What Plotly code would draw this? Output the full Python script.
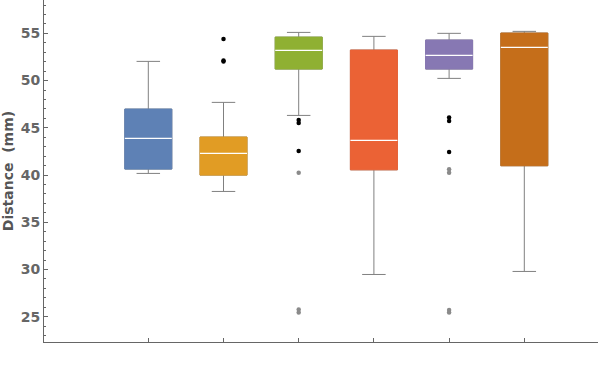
import plotly.graph_objects as go

# Data
positions = [1, 2, 3, 4, 5, 6]
colors = ["#5e81b5", "#e19c24", "#8fb032", "#eb6235", "#8778b3", "#c56e1a"]
upper = [52.03, 47.69, 55.10, 54.68, 55.00, 55.21]
q3 = [46.98, 44.02, 54.60, 53.23, 54.29, 55.03]
median = [43.88, 42.29, 53.20, 43.66, 52.67, 53.52]
q1 = [40.63, 39.99, 51.22, 40.55, 51.22, 40.98]
lower = [40.17, 38.26, 46.31, 29.47, 50.23, 29.79]

# outliers (near: black, far: gray)
near_x = [2, 2, 2, 3, 3, 3, 5, 5, 5]
near_y = [54.40, 52.12, 52.02, 45.82, 45.50, 42.54, 46.09, 45.72, 42.43]
far_x = [3, 3, 3, 5, 5, 5, 5]
far_y = [40.24, 25.75, 25.45, 40.60, 40.25, 25.72, 25.45]

BW = 0.625
gray = "#808080"
axis_col = "#666666"

fig = go.Figure()

# whiskers (gray)
fig.add_trace(go.Box(
    x=positions, q1=q1, median=median, q3=q3,
    lowerfence=lower, upperfence=upper,
    width=BW, whiskerwidth=0.5, boxpoints=False,
    line=dict(color=gray, width=1), fillcolor="rgba(0,0,0,0)",
    showlegend=False, hoverinfo="skip"))

# colored boxes
for p, c, a, m, b in zip(positions, colors, q1, median, q3):
    fig.add_trace(go.Box(
        x=[p], q1=[a], median=[m], q3=[b], lowerfence=[a], upperfence=[b],
        width=BW, whiskerwidth=0, boxpoints=False,
        line=dict(color=c, width=1), fillcolor=c,
        showlegend=False, hoverinfo="skip"))

# white medians
fig.add_trace(go.Box(
    x=positions, q1=median, median=median, q3=median,
    lowerfence=median, upperfence=median,
    width=BW, whiskerwidth=0, boxpoints=False,
    line=dict(color="white", width=1.2), fillcolor="rgba(0,0,0,0)",
    showlegend=False, hoverinfo="skip"))

fig.add_trace(go.Scatter(x=near_x, y=near_y, mode="markers",
                         marker=dict(color="black", size=4.5),
                         showlegend=False, hoverinfo="skip"))
fig.add_trace(go.Scatter(x=far_x, y=far_y, mode="markers",
                         marker=dict(color="#8a8a8a", size=4.5),
                         showlegend=False, hoverinfo="skip"))

fig.update_layout(
    width=600, height=370,
    margin=dict(l=44, r=2, t=0, b=28),
    paper_bgcolor="white", plot_bgcolor="white",
    boxmode="overlay",
    font=dict(family="DejaVu Sans", color=axis_col),
    xaxis=dict(range=[-0.387, 6.98], tickvals=positions, showticklabels=False,
               ticks="inside", ticklen=4, tickcolor=axis_col,
               showline=True, linecolor=axis_col, linewidth=1,
               showgrid=False, zeroline=False),
    yaxis=dict(range=[22.32, 58.53], tickvals=[25, 30, 35, 40, 45, 50, 55],
               ticks="inside", ticklen=4, tickcolor=axis_col,
               minor=dict(dtick=1, ticks="inside", ticklen=2, tickcolor=axis_col),
               showline=True, linecolor=axis_col, linewidth=1,
               showgrid=False, zeroline=False,
               tickfont=dict(family="DejaVu Sans", size=14, color=axis_col, weight="bold"),
               title=dict(text="Distance\u00a0 (mm)", standoff=6,
                          font=dict(family="DejaVu Sans", size=14, color="#555555", weight="bold"))),
)

fig.write_html("out.html", config={"displayModeBar": False},
               post_script="document.body.style.margin='0';document.body.style.overflow='hidden';")
